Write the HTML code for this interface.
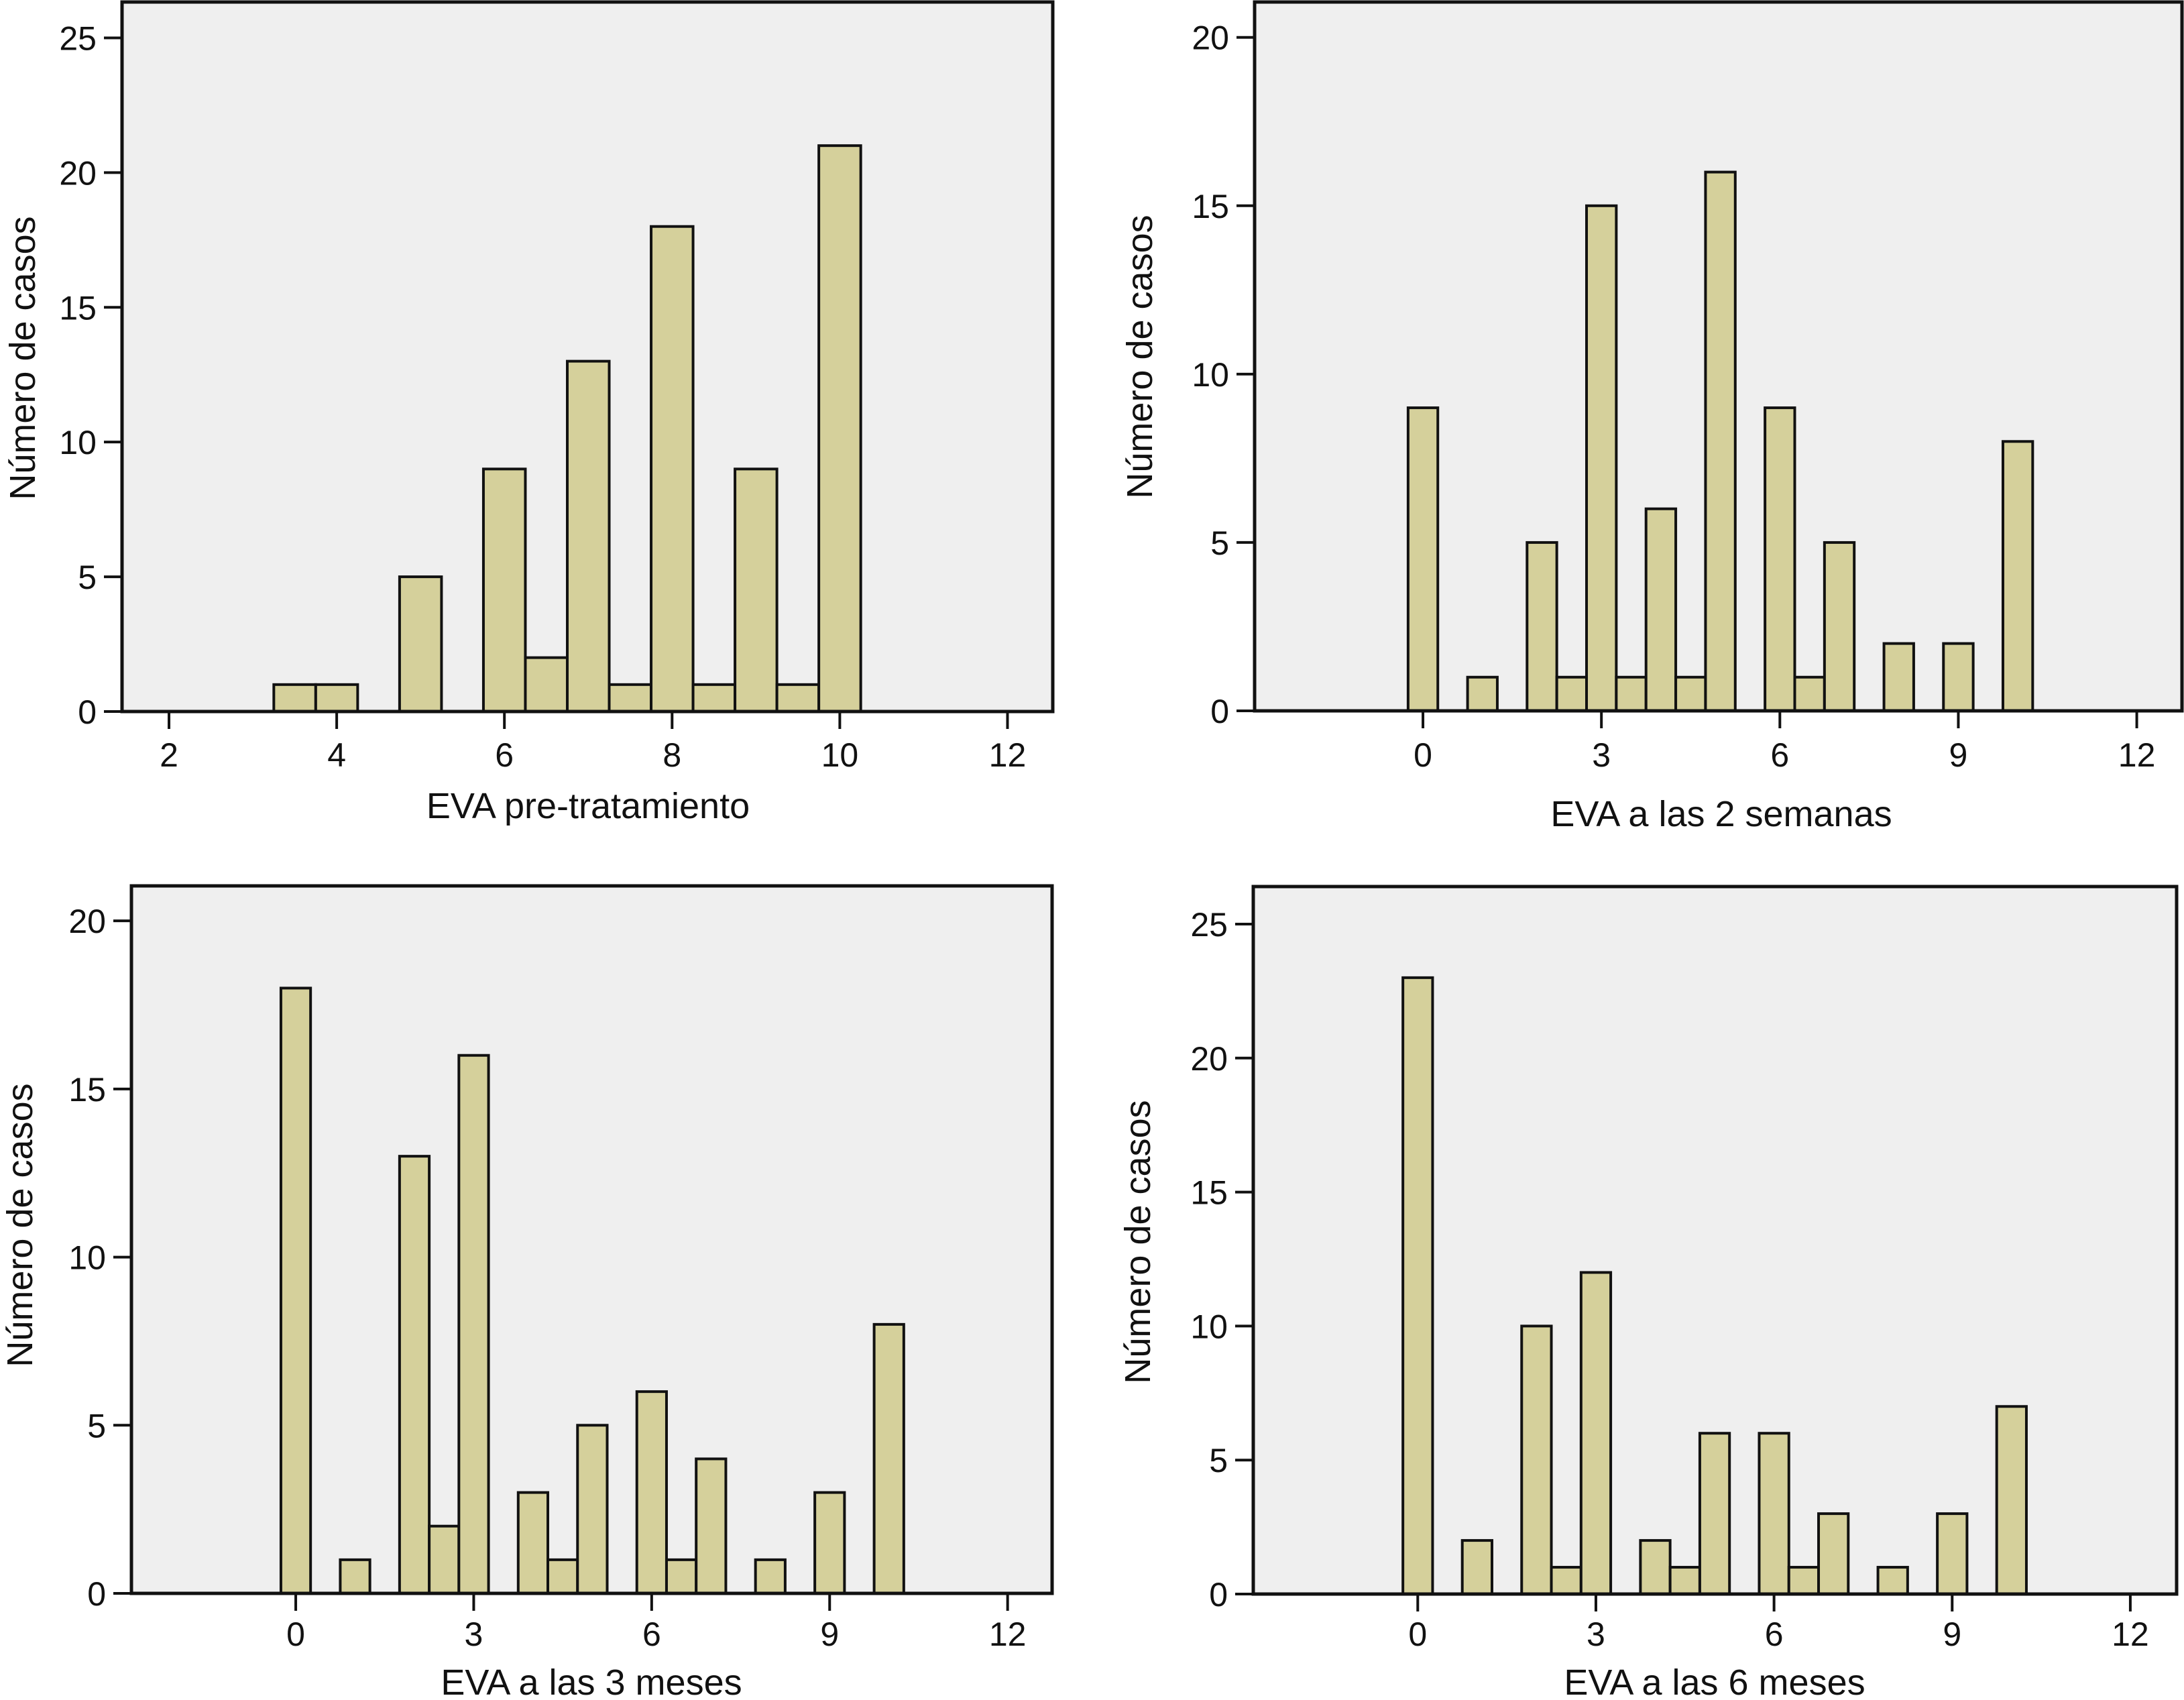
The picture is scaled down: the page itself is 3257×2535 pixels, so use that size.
<!DOCTYPE html>
<html><head><meta charset="utf-8"><style>
html,body{margin:0;padding:0;background:#fff;}
svg{display:block;}
</style></head><body>
<svg id="fig" width="3257" height="2535" viewBox="0 0 3257 2535" xmlns="http://www.w3.org/2000/svg"></svg>
<script>
// Panel 1: EVA pre-tratamiento
const cats1 = [3.5,4,5,6,6.5,7,7.5,8,8.5,9,9.5,10];
const vals1 = [1,1,5,9,2,13,1,18,1,9,1,21];
const xticks1 = [2,4,6,8,10,12];
const yticks1 = [0,5,10,15,20,25];
// Panel 2: EVA a las 2 semanas
const cats2 = [0,1,2,2.5,3,3.5,4,4.5,5,6,6.5,7,8,9,10];
const vals2 = [9,1,5,1,15,1,6,1,16,9,1,5,2,2,8];
const xticks2 = [0,3,6,9,12];
const yticks2 = [0,5,10,15,20];
// Panel 3: EVA a las 3 meses
const cats3 = [0,1,2,2.5,3,4,4.5,5,6,6.5,7,8,9,10];
const vals3 = [18,1,13,2,16,3,1,5,6,1,4,1,3,8];
const xticks3 = [0,3,6,9,12];
const yticks3 = [0,5,10,15,20];
// Panel 4: EVA a las 6 meses
const cats4 = [0,1,2,2.5,3,4,4.5,5,6,6.5,7,8,9,10];
const vals4 = [23,2,10,1,12,2,1,6,6,1,3,1,3,7];
const xticks4 = [0,3,6,9,12];
const yticks4 = [0,5,10,15,20,25];

const NS='http://www.w3.org/2000/svg';
const svg=document.getElementById('fig');
function mk(tag,attrs,parent){const e=document.createElementNS(NS,tag);for(const k in attrs)e.setAttribute(k,attrs[k]);(parent||svg).appendChild(e);return e;}

const panels=[
 {id:'pre',cats:cats1,vals:vals1,xt:xticks1,yt:yticks1,L:182,R:1570,T:3,B:1061,x0:1.44,x1:12.54,ymax:26.33,title:'EVA pre-tratamiento',tx:877,ty:1202,tly:1125,ytx:33,yty:534,bw:0.5},
 {id:'2sem',cats:cats2,vals:vals2,xt:xticks2,yt:yticks2,L:1871,R:3254,T:3,B:1060,x0:-2.83,x1:12.76,ymax:21.05,title:'EVA a las 2 semanas',tx:2567,ty:1214,tly:1125,ytx:1699,yty:532,bw:0.5},
 {id:'3mes',cats:cats3,vals:vals3,xt:xticks3,yt:yticks3,L:196,R:1569,T:1321,B:2376,x0:-2.77,x1:12.75,ymax:21.04,title:'EVA a las 3 meses',tx:882,ty:2509,tly:2436,ytx:29,yty:1827,bw:0.5},
 {id:'6mes',cats:cats4,vals:vals4,xt:xticks4,yt:yticks4,L:1869,R:3246,T:1322,B:2377,x0:-2.77,x1:12.78,ymax:26.4,title:'EVA a las 6 meses',tx:2557,ty:2509,tly:2436,ytx:1696,yty:1852,bw:0.5}
];

panels.forEach(p=>{
 const g=mk('g',{});
 
 
 const xs=v=>p.L+(v-p.x0)/(p.x1-p.x0)*(p.R-p.L);
 const ys=v=>p.B-v/p.ymax*(p.B-p.T);
 const bg=mk('rect',{x:p.L,y:p.T,width:p.R-p.L,height:p.B-p.T,fill:'#efefef',stroke:'none'},g);
 
 
 p.cats.forEach((c,i)=>{
  const x=xs(c-p.bw/2), w=xs(c+p.bw/2)-x, y=ys(p.vals[i]);
  const r=mk('rect',{x:x,y:y,width:w,height:p.B-y,fill:'#d5d09b',stroke:'#111',"stroke-width":4},g);
  
  
 });
 const fr=mk('rect',{x:p.L,y:p.T,width:p.R-p.L,height:p.B-p.T,fill:'none',stroke:'#111',"stroke-width":5},g);
 
 
 p.yt.forEach(t=>{
  const y=ys(t);
  mk('line',{x1:p.L-27,x2:p.L,y1:y,y2:y,stroke:'#111',"stroke-width":4},g);
  const tx=mk('text',{x:p.L-38,y:y+18,"text-anchor":'end',"font-family":'"Liberation Sans Narrow","Liberation Sans",sans-serif',"font-size":50,fill:'#111'},g);
  tx.textContent=t;
  
  
 });
 p.xt.forEach(t=>{
  const x=xs(t);
  mk('line',{x1:x,x2:x,y1:p.B,y2:p.B+26,stroke:'#111',"stroke-width":4},g);
  const tx=mk('text',{x:x,y:p.tly+18,"text-anchor":'middle',"font-family":'"Liberation Sans Narrow","Liberation Sans",sans-serif',"font-size":50,fill:'#111'},g);
  tx.textContent=t;
  
  
 });
 const xt=mk('text',{x:p.tx,y:p.ty+18,"text-anchor":'middle',"font-family":'"Liberation Sans Narrow","Liberation Sans",sans-serif',"font-size":54,fill:'#111'},g);
 xt.textContent=p.title;
 
 
 const yt=mk('text',{x:0,y:0,"text-anchor":'middle',"font-family":'"Liberation Sans",sans-serif',"font-size":54,fill:'#111',transform:'translate('+(p.ytx+19)+','+p.yty+') rotate(-90)'},g);
 yt.textContent='Número de casos';
 
 
});
</script>
</body></html>
